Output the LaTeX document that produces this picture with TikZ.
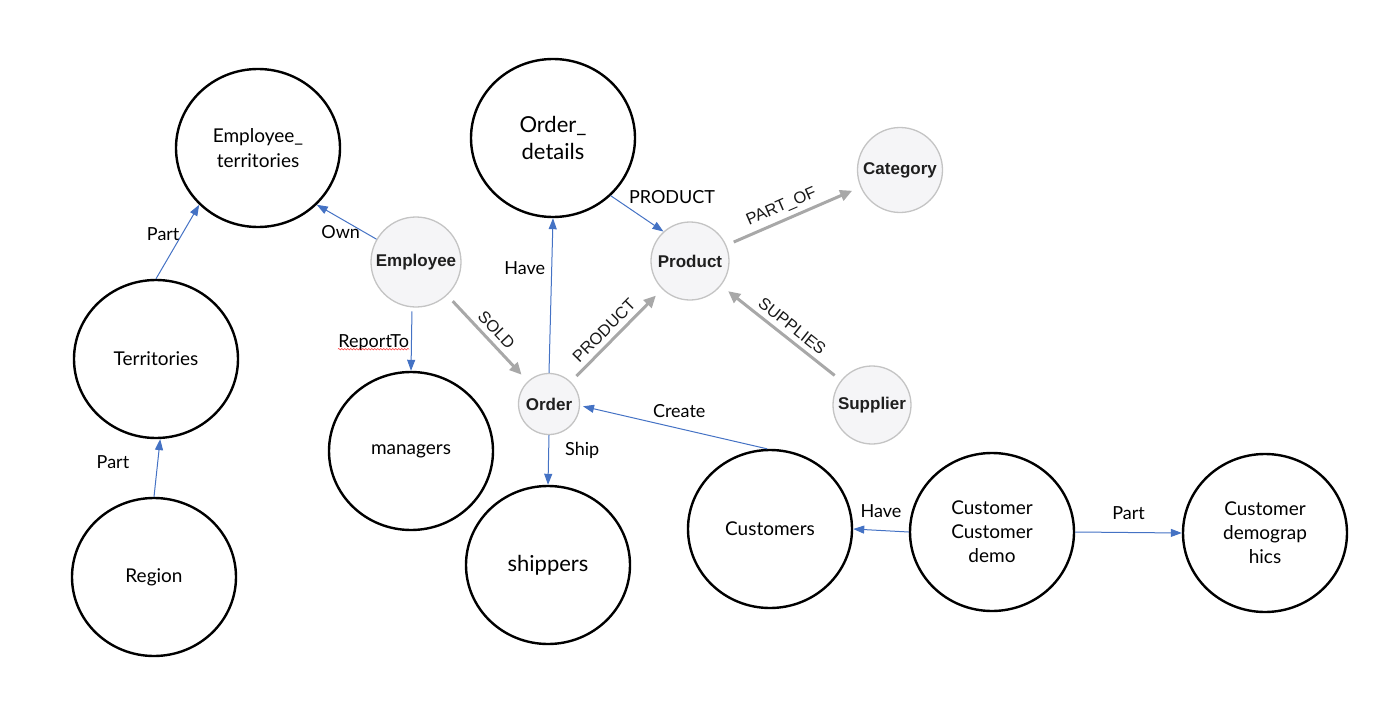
\documentclass[tikz,border=0pt]{standalone}
\usepackage{fontspec}
\setmainfont{Lato}
\newfontfamily\neofont{Liberation Sans}
\usetikzlibrary{arrows.meta,shapes.geometric,decorations.pathmorphing}
\definecolor{linkblue}{HTML}{4472C4}
\definecolor{neoline}{HTML}{C4C4C4}
\definecolor{neofill}{HTML}{F5F5F7}
\definecolor{neoedge}{HTML}{A8A8A8}

\begin{document}
\begin{tikzpicture}[x=1pt, y=-1pt,
    main/.style = {draw, ellipse, line width=2.4pt, minimum width=164pt, minimum height=158pt, inner sep=0pt, align=center, font=\fontsize{19}{25}\selectfont},
    neo/.style = {draw=neoline, fill=neofill, circle, line width=1.3pt, inner sep=0pt, text=black!88, font=\neofont\bfseries\fontsize{17}{19}\selectfont},
    link/.style = {draw=linkblue, line width=1pt, -{Triangle[length=11pt,width=8pt]}},
    rel/.style = {draw=neoedge, line width=3pt, -{Triangle[length=12pt,width=11pt]}, shorten <=8pt, shorten >=9pt},
    lbl/.style = {inner sep=2pt, font=\fontsize{18}{20}\selectfont},
    rlbl/.style = {inner sep=2pt, sloped, text=black!90, font=\neofont\fontsize{16.5}{18}\selectfont}]
    \useasboundingbox (0,0) rectangle (1379,717);

    % tables
    \node[main] (et)     at (258,148)  {Employee\_\\territories};
    \node[main] (terr)   at (156,359)  {Territories};
    \node[main] (region) at (154,577)  {Region};
    \node[main, font=\fontsize{22}{27}\selectfont] (od) at (553,138) {Order\_\\details};
    \node[main] (mgr)    at (411,451)  {managers};
    \node[main, font=\fontsize{22}{27}\selectfont] (ship) at (548,565) {shippers};
    \node[main] (cust)   at (770,529)  {Customers};
    \node[main, font=\fontsize{19}{24}\selectfont] (ccd)   at (992,532)  {Customer\\Customer\\demo};
    \node[main, font=\fontsize{19}{24}\selectfont] (cdemo) at (1265,533) {Customer\\demograp\\hics};

    % graph nodes
    \node[neo, minimum size=90pt] (emp)   at (416,262) {Employee};
    \node[neo, minimum size=78pt] (prod)  at (690,261) {Product};
    \node[neo, minimum size=85pt] (cat)   at (900,170) {Category};
    \node[neo, minimum size=61pt] (order) at (549,404) {Order};
    \node[neo, minimum size=78pt] (sup)   at (872,405) {Supplier};

    % relations between tables
    \draw (terr.north) edge[link] node[lbl, left, pos=.6] {Part} (et.224);
    \draw (region.north) edge[link] node[lbl, left=26pt, pos=.6] {Part} (terr.273);
    \draw (emp.150) edge[link] node[lbl, below=4pt, pos=.6] {Own} (et.-44);
    \draw (emp.265) edge[link, shorten <=4pt] node[lbl, left, pos=.55] (rt) {ReportTo} (mgr.north);
    \draw[red, decorate, decoration={snake, amplitude=.8pt, segment length=3pt}] ([xshift=2pt,yshift=-2pt]rt.base west) -- ([xshift=-2pt,yshift=-2pt]rt.base east);
    \draw (order.north) edge[link] node[lbl, left=4pt, pos=.68] {Have} (od.south);
    \draw (od.-45) edge[link] node[lbl, above right=0pt, pos=.3] {PRODUCT} (prod.132);
    \draw (order.south) edge[link] node[lbl, right=14pt, pos=.3] {Ship} (ship.north);
    \draw (cust.92) edge[link, shorten >=3pt] node[lbl, above=8pt, pos=.47] {Create} (order.-3);
    \draw (ccd.west) edge[link] node[lbl, above=10pt] {Have} (cust.east);
    \draw (ccd.east) edge[link] node[lbl, above=10pt] {Part} (cdemo.west);

    % graph relations
    \draw (emp) edge[rel] node[rlbl, above=3pt] {SOLD} (order);
    \draw (order) edge[rel] node[rlbl, above=3pt, pos=.46] {PRODUCT} (prod);
    \draw (prod) edge[rel] node[rlbl, above=2pt, pos=.45] {PART\_OF} (cat);
    \draw (sup) edge[rel] node[rlbl, above=3pt, pos=.47] {SUPPLIES} (prod);
\end{tikzpicture}
\end{document}
